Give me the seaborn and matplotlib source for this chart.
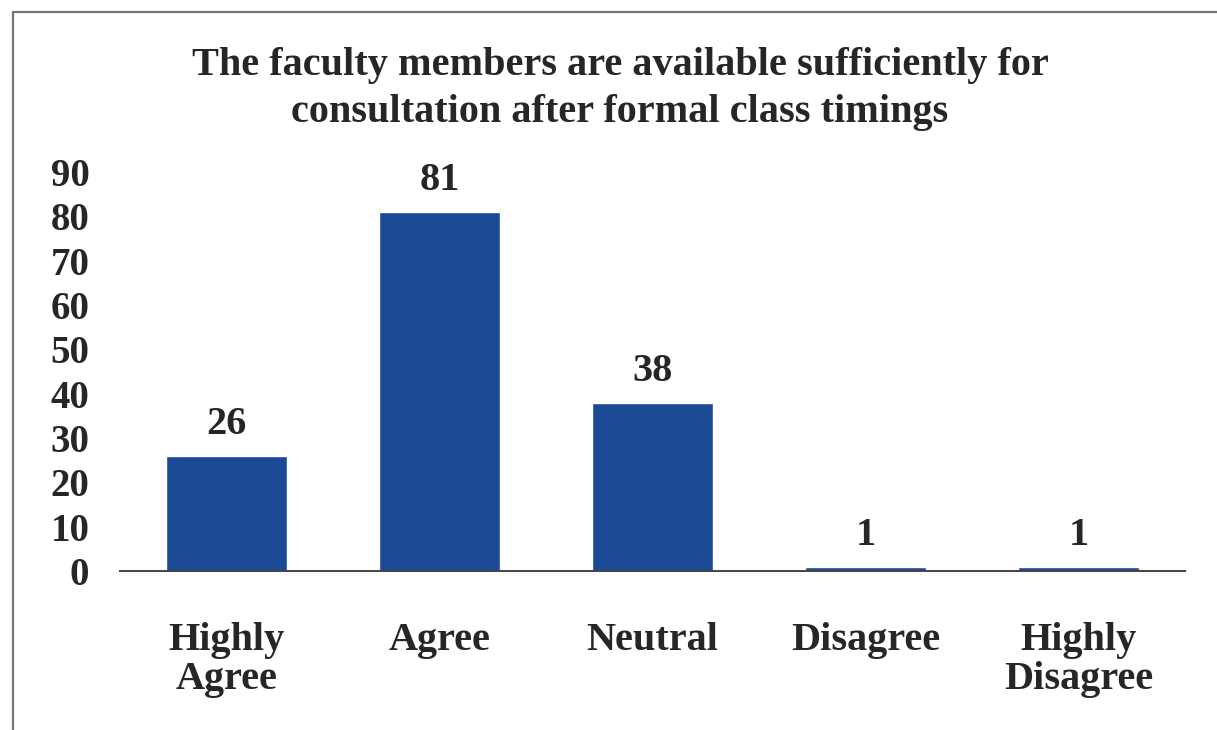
import seaborn as sns
import matplotlib.pyplot as plt
from matplotlib.lines import Line2D

categorias = ["Highly\nAgree", "Agree", "Neutral", "Disagree", "Highly\nDisagree"]
valores = [26, 81, 38, 1, 1]
ticks_y = [0, 10, 20, 30, 40, 50, 60, 70, 80, 90]
titulo = "The faculty members are available sufficiently for\nconsultation after formal class timings"

sns.set_style("white")
plt.rcParams["font.family"] = ["Liberation Serif", "DejaVu Serif"]
plt.rcParams["font.weight"] = "bold"

fig = plt.figure(figsize=(12.17, 7.30), dpi=100)
ax = fig.add_axes([0.0986, 0.2178, 0.8751, 0.5466])

sns.barplot(x=categorias, y=valores, color="#1b4a94", saturation=1, width=0.57, ax=ax)
ax.bar_label(ax.containers[0], padding=9, fontsize=29, fontweight="bold", clip_on=False)

ax.set_ylim(0, 90)
ax.set_xlim(-0.5, 4.5)
ax.set_yticks(ticks_y)
ax.tick_params(axis="y", labelsize=28, length=0, pad=22)
ax.tick_params(axis="x", labelsize=29, length=0, pad=37)
for lbl in ax.get_xticklabels() + ax.get_yticklabels():
    lbl.set_fontweight("bold")
    lbl.set_linespacing(1.05)

sns.despine(ax=ax, left=True, top=True, right=True)
ax.spines["bottom"].set_color("#444444")
ax.spines["bottom"].set_linewidth(1.4)

fig.text(0.5095, 0.878, titulo, ha="center", va="center", fontsize=29,
         fontweight="bold", linespacing=1.37)

# marco del recuadro (solo se ven borde izquierdo y superior)
fig.add_artist(Line2D([0.0107, 0.0107], [0.0, 0.984], color="#777777", lw=1.6))
fig.add_artist(Line2D([0.0107, 1.0], [0.984, 0.984], color="#777777", lw=1.6))

fig.savefig("out.png", dpi=100)
